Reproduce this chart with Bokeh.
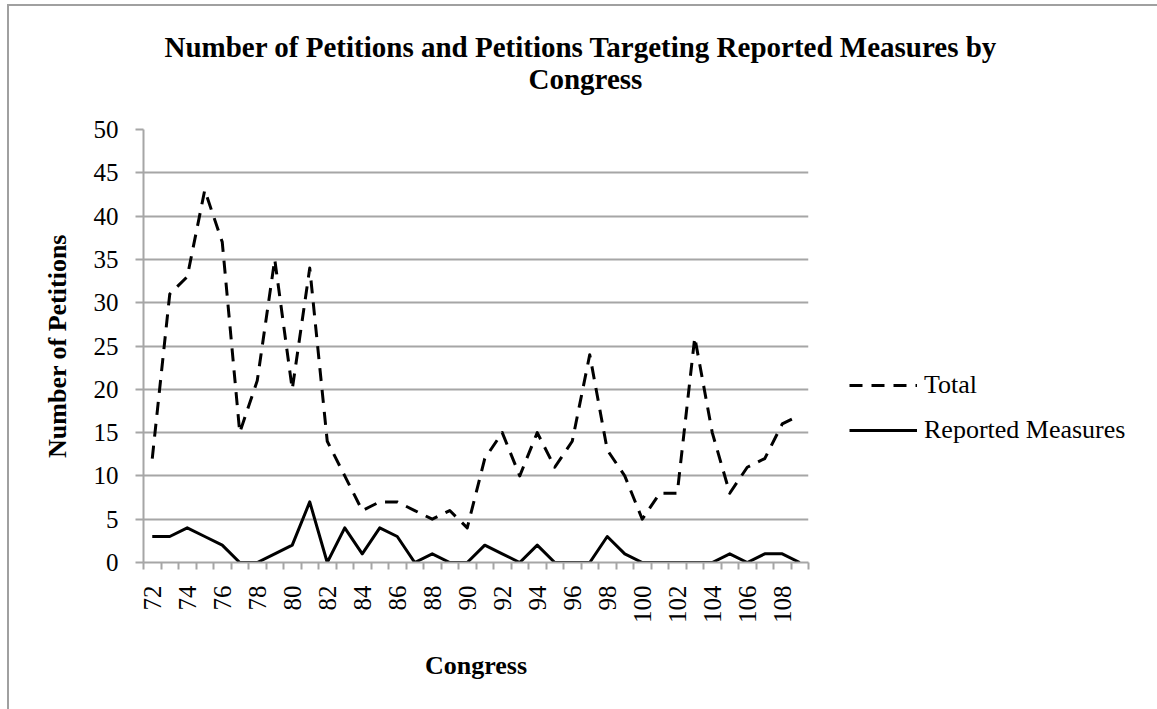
from math import pi
from bokeh.plotting import figure
from bokeh.layouts import column
from bokeh.models import Range1d, FixedTicker, Legend, LegendItem, Title
from bokeh.embed import file_html
from bokeh.resources import INLINE

# ---- data ----
congress = list(range(72, 110))
total = [12, 31, 33, 43, 37, 15, 21, 35, 20, 34,
         14, 10, 6, 7, 7, 6, 5, 6, 4, 12,
         15, 10, 15, 11, 14, 24, 13, 10, 5, 8,
         8, 26, 15, 8, 11, 12, 16, 17]
reported = [3, 3, 4, 3, 2, 0, 0, 1, 2, 7,
            0, 4, 1, 4, 3, 0, 1, 0, 0, 2,
            1, 0, 2, 0, 0, 0, 3, 1, 0, 0,
            0, 0, 0, 1, 0, 1, 1, 0]
x_tick_labels = list(range(72, 109, 2))
y_ticks = list(range(0, 51, 5))

title_lines = ["Number of Petitions and Petitions Targeting Reported Measures by", "Congress"]
x_title = "Congress"
y_title = "Number of Petitions"
series_names = ["Total", "Reported Measures"]

GRAY = "#a6a6a6"
SERIF = "Liberation Serif"

p = figure(frame_width=665, frame_height=433, output_backend="svg", toolbar_location=None,
           x_range=Range1d(congress[0] - 0.5, congress[-1] + 0.5),
           y_range=Range1d(0, 50),
           min_border_left=134, min_border_right=349,
           min_border_top=123, min_border_bottom=147)
p.outline_line_color = None
p.background_fill_color = "white"
p.border_fill_color = "white"

# x axis: boundary ticks as minor ticks, labels at even congresses
xa = p.xaxis[0]
xa.ticker = FixedTicker(ticks=x_tick_labels,
                        minor_ticks=[c - 0.5 for c in congress] + [congress[-1] + 0.5])
xa.axis_line_color = GRAY
xa.axis_line_width = 2
xa.major_tick_line_color = None
xa.major_tick_out = 0
xa.major_tick_in = 0
xa.minor_tick_line_color = GRAY
xa.minor_tick_line_width = 2
xa.minor_tick_out = 7
xa.minor_tick_in = 0
xa.major_label_orientation = pi / 2
xa.major_label_text_font = SERIF
xa.major_label_text_font_size = "25px"
xa.major_label_text_color = "black"
xa.major_label_standoff = 16
xa.axis_label = x_title
xa.axis_label_text_font = SERIF
xa.axis_label_text_font_style = "bold"
xa.axis_label_text_font_size = "26px"
xa.axis_label_text_color = "black"
xa.axis_label_standoff = 25

ya = p.yaxis[0]
ya.ticker = FixedTicker(ticks=y_ticks)
ya.axis_line_color = GRAY
ya.axis_line_width = 2
ya.major_tick_line_color = GRAY
ya.major_tick_line_width = 2
ya.major_tick_out = 8
ya.major_tick_in = 0
ya.minor_tick_line_color = None
ya.major_label_text_font = SERIF
ya.major_label_text_font_size = "25px"
ya.major_label_text_color = "black"
ya.major_label_standoff = 17
ya.axis_label = y_title
ya.axis_label_text_font = SERIF
ya.axis_label_text_font_style = "bold"
ya.axis_label_text_font_size = "26px"
ya.axis_label_text_color = "black"
ya.axis_label_standoff = 19

p.xgrid.visible = False
p.ygrid.grid_line_color = GRAY
p.ygrid.grid_line_width = 2

r_total = p.line(congress, total, line_color="black", line_width=3,
                 line_dash="13 9", line_join="round")
r_rep = p.line(congress, reported, line_color="black", line_width=3,
               line_join="round")

legend = Legend(items=[LegendItem(label=series_names[0], renderers=[r_total]),
                       LegendItem(label=series_names[1], renderers=[r_rep])],
                location=(41, 117), orientation="vertical",
                border_line_color=None, background_fill_alpha=0,
                glyph_width=68, glyph_height=20, label_standoff=7,
                spacing=15, padding=0, margin=0,
                label_text_font=SERIF, label_text_font_size="26px",
                label_text_color="black")
p.add_layout(legend, "right")

# title: p.title is the upper line; a blank spacer sits next to the plot,
# the second title line above it
p.title.text = title_lines[0]
p.title.align = "left"
p.title.offset = 21
p.title.standoff = -4
p.title.text_font = SERIF
p.title.text_font_style = "bold"
p.title.text_font_size = "29px"
p.title.text_color = "black"
p.add_layout(Title(text=" ", align="left", standoff=1,
                   text_font=SERIF, text_font_size="29px"), "above")
p.add_layout(Title(text=title_lines[1], align="left", offset=385, standoff=0,
                   text_font=SERIF, text_font_style="bold", text_font_size="29px",
                   text_color="black"), "above")

page = column(p, margin=(4, 0, 0, 7),
              styles={"border-top": "2px solid #a0a0a0",
                      "border-left": "2px solid #a0a0a0"})

open("out.html", "w").write(file_html(page, INLINE))
